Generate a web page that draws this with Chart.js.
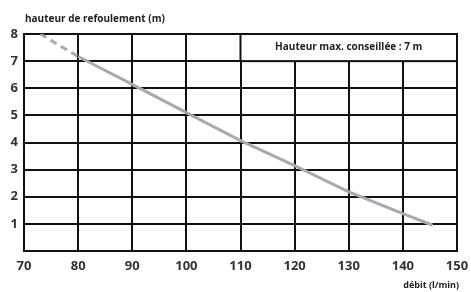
<!DOCTYPE html>
<html>
<head>
<meta charset="utf-8">
<script src="https://cdn.jsdelivr.net/npm/chart.js@4"></script>
<style>
  html, body { margin: 0; padding: 0; background: #fff; }
  #wrap { width: 471px; height: 292px; }
</style>
</head>
<body>
<div id="wrap"><canvas id="pumpChart" width="471" height="292"></canvas></div>
<script>
// debit (l/min) vs hauteur de refoulement (m)
const flowValues = [73, 80, 90, 100, 110, 120, 130, 140, 145.5];
const headValues = [8, 7.17, 6.14, 5.1, 4.07, 3.15, 2.18, 1.38, 0.95];
const xTicks = [70, 80, 90, 100, 110, 120, 130, 140, 150];
const yTicks = [1, 2, 3, 4, 5, 6, 7, 8];

const yTitle = 'hauteur de refoulement (m)';
const xTitle = 'débit (l/min)';
const noteText = 'Hauteur max. conseillée : 7 m';

const points = flowValues.map((x, i) => ({ x: x, y: headValues[i] }));

// white box with the advice + axis titles
const notePlugin = {
  id: 'notes',
  afterDatasetsDraw(chart) {
    const { ctx, scales: { x, y } } = chart;
    const l = x.getPixelForValue(110), r = x.getPixelForValue(150);
    const t = y.getPixelForValue(8), b = y.getPixelForValue(7);
    ctx.save();
    ctx.fillStyle = '#fff';
    ctx.fillRect(l, t, r - l, b - t);
    ctx.strokeStyle = '#111';
    ctx.lineWidth = 2;
    ctx.strokeRect(l, t, r - l, b - t);
    ctx.fillStyle = '#222';
    ctx.font = '700 10px "Open Sans"';
    ctx.textAlign = 'center';
    ctx.textBaseline = 'middle';
    ctx.fillText(noteText, (l + r) / 2, (t + b) / 2);
    ctx.restore();
  },
  afterDraw(chart) {
    const { ctx, chartArea } = chart;
    ctx.save();
    ctx.fillStyle = '#222';
    ctx.font = '700 10px "Open Sans"';
    ctx.textBaseline = 'middle';
    ctx.textAlign = 'left';
    ctx.fillText(yTitle, 25, 19);
    ctx.textAlign = 'right';
    ctx.font = '700 9px "Open Sans"';
    ctx.fillText(xTitle, chartArea.right + 2, 285);
    ctx.restore();
  }
};

const ctx = document.getElementById('pumpChart').getContext('2d');
const pumpChart = new Chart(ctx, {
  type: 'scatter',
  data: {
    datasets: [{
      data: points,
      showLine: true,
      borderColor: '#a9a9b2',
      borderWidth: 3,
      pointRadius: 0,
      tension: 0,
      segment: {
        borderDash: c => c.p0DataIndex === 0 ? [7, 5] : undefined
      }
    }]
  },
  options: {
    responsive: false,
    animation: false,
    layout: { padding: { top: 34, right: 14, left: 3, bottom: 0 } },
    plugins: { legend: { display: false }, tooltip: { enabled: false } },
    scales: {
      x: {
        type: 'linear',
        min: 70, max: 150,
        afterBuildTicks: s => { s.ticks = xTicks.map(v => ({ value: v })); },
        afterFit: s => { s.height = 41; s.paddingLeft = 0; s.paddingRight = 0; },
        grid: { color: '#111', lineWidth: 2, drawTicks: false },
        border: { color: '#111', width: 2 },
        ticks: { color: '#333', padding: 7, font: { family: 'Open Sans', size: 13, weight: '700' } }
      },
      y: {
        min: 0, max: 8,
        afterBuildTicks: s => { s.ticks = yTicks.map(v => ({ value: v })); },
        afterFit: s => { s.width = 21; s.paddingTop = 0; s.paddingBottom = 0; },
        grid: { color: '#111', lineWidth: 2, drawTicks: false },
        border: { color: '#111', width: 2 },
        ticks: { color: '#333', padding: 6, font: { family: 'Open Sans', size: 13, weight: '700' } }
      }
    }
  },
  plugins: [notePlugin]
});
</script>
</body>
</html>
